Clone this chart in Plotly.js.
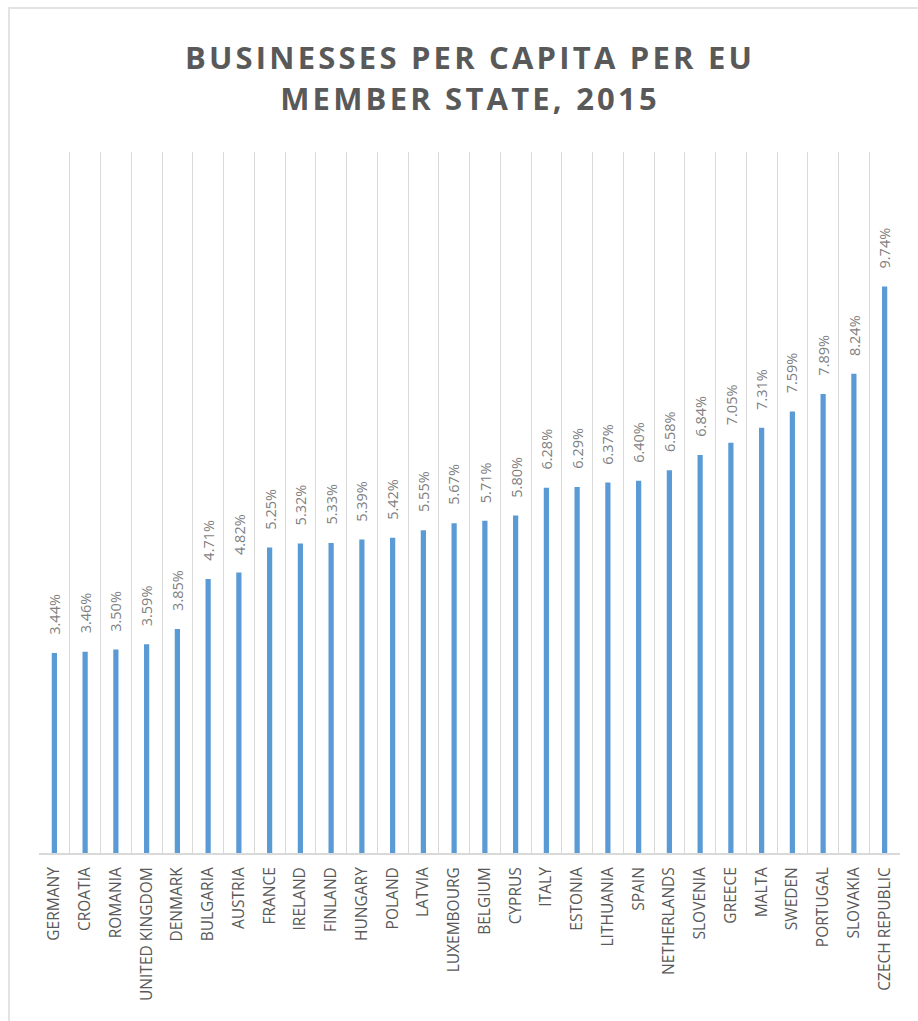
<!DOCTYPE html>
<html>
<head>
<meta charset="utf-8">
<script src="https://cdn.plot.ly/plotly-3.0.1.min.js"></script>
<style>
  html, body { margin: 0; padding: 0; background: #fff; }
  #chart { width: 918px; height: 1021px; }
  #frame { position: absolute; left: 8px; top: 7px; width: 920px; height: 1030px;
           border-left: 2px solid #e3e3e3; border-top: 2px solid #e3e3e3; pointer-events: none; }
  .gtitle { letter-spacing: 3.2px; }
</style>
</head>
<body>
<div id="chart"></div>
<div id="frame"></div>
<script>
const countries = ["GERMANY","CROATIA","ROMANIA","UNITED KINGDOM","DENMARK","BULGARIA","AUSTRIA","FRANCE","IRELAND","FINLAND","HUNGARY","POLAND","LATVIA","LUXEMBOURG","BELGIUM","CYPRUS","ITALY","ESTONIA","LITHUANIA","SPAIN","NETHERLANDS","SLOVENIA","GREECE","MALTA","SWEDEN","PORTUGAL","SLOVAKIA","CZECH REPUBLIC"];
const values = [3.44,3.46,3.50,3.59,3.85,4.71,4.82,5.25,5.32,5.33,5.39,5.42,5.55,5.67,5.71,5.80,6.28,6.29,6.37,6.40,6.58,6.84,7.05,7.31,7.59,7.89,8.24,9.74];
const valueLabels = values.map(v => v.toFixed(2) + "%");

const trace = {
  type: "bar",
  x: countries,
  y: values,
  marker: { color: "#5b9bd5" },
  hoverinfo: "x+y"
};

const annotations = countries.map((c, i) => ({
  x: c, y: values[i], xref: "x", yref: "y",
  text: valueLabels[i], showarrow: false,
  textangle: -90, xanchor: "center", yanchor: "bottom", yshift: 16,
  font: { family: "Open Sans, sans-serif", size: 14.5, color: "#7f7f7f" }
}));

const layout = {
  width: 918, height: 1021,
  margin: { l: 39, r: 18, t: 152, b: 168 },
  paper_bgcolor: "#ffffff", plot_bgcolor: "#ffffff",
  bargap: 0.83,
  showlegend: false,
  title: {
    text: "BUSINESSES PER CAPITA PER EU<br>MEMBER STATE, 2015",
    font: { family: "Open Sans, sans-serif", size: 31, color: "#595959", weight: 700 },
    x: 0.512, xanchor: "center", y: 0.932, yanchor: "top"
  },
  xaxis: {
    type: "category",
    tickangle: -90,
    tickson: "boundaries",
    ticks: "",
    ticklabelstandoff: 6,
    showgrid: true, gridcolor: "#d9d9d9", gridwidth: 1,
    showline: true, linecolor: "#d9d9d9", linewidth: 2,
    tickfont: { family: "Open Sans, sans-serif", size: 15.5, color: "#595959" },
    automargin: false
  },
  yaxis: {
    range: [0, 12.05],
    showgrid: false, zeroline: false, showline: false,
    showticklabels: false, ticks: ""
  },
  annotations: annotations
};

Plotly.newPlot("chart", [trace], layout, { displayModeBar: false, staticPlot: true });
</script>
</body>
</html>
